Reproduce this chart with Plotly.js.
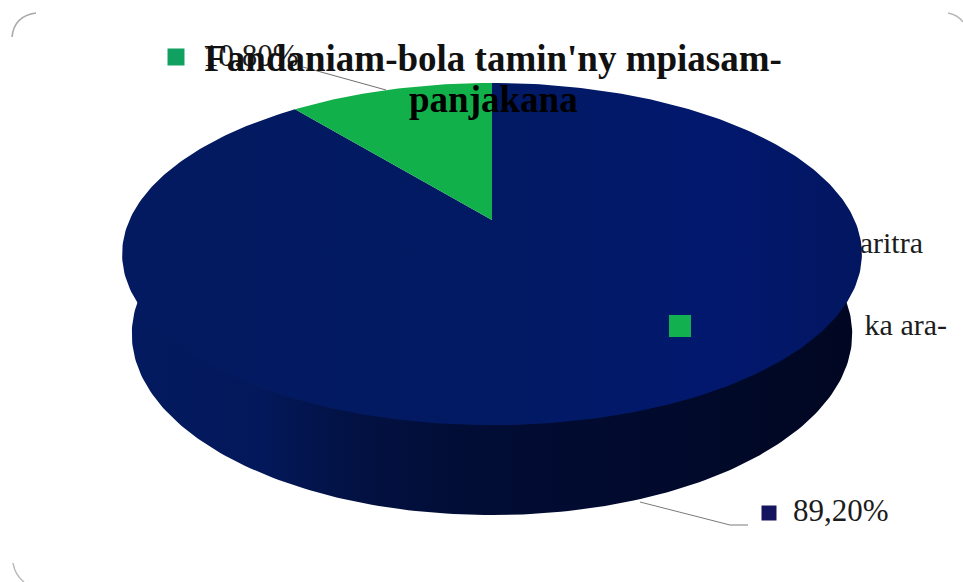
<!DOCTYPE html>
<html>
<head>
<meta charset="utf-8">
<script src="https://cdn.plot.ly/plotly-3.0.1.min.js"></script>
<style>html,body{margin:0;padding:0;background:#fff}#chart{width:963px;height:582px}</style>
</head>
<body>
<div id="chart"></div>
<script>
// Data
const sliceValues = [10.8, 89.2];
const sliceLabels = ["10,80%", "89,20%"];
const sliceColors = ["#12b04a", "#03196a"];
const titleLines = ["Fandaniam-bola tamin'ny mpiasam-", "panjakana"];
const legendFragments = ["aritra", "ka ara-"];

// Perspective geometry of the 3D pie, in plot units
const cx = 492, topY = 220, bottomY = 298, persp = 0.199;
const topRadX = 362.5, topRadY = 164.3, botRadX = 353, botRadY = 173.9;

function project(deg, y0, rx, ry) {
  const t = deg * Math.PI / 180, d = 1 + persp * Math.cos(t);
  return [cx + rx * Math.sin(t) / d, y0 - ry * Math.cos(t) / d];
}
function arc(from, to, y0, rx, ry) {
  const xs = [], ys = [], n = Math.max(2, Math.ceil(Math.abs(to - from)));
  for (let i = 0; i <= n; i++) {
    const p = project(from + (to - from) * i / n, y0, rx, ry);
    xs.push(p[0]); ys.push(p[1]);
  }
  return [xs, ys];
}
const greenDeg = sliceValues[0] / 100 * 360;

// Rim of the pie: starts just inside the top edge so no seam shows, joined to the lower edge
const rimTop = arc(80, 280, topY, topRadX * 0.97, topRadY * 0.97);
const rimBot = arc(280, 80, bottomY, botRadX, botRadY);

// Slices run counter-clockwise from twelve o'clock: green first, navy the rest
const navyArc = arc(0, 360 - greenDeg, topY, topRadX, topRadY);
const greenArc = arc(360 - greenDeg, 360, topY, topRadX, topRadY);

const traces = [
  { x: [923, 947], y: [245, 327], mode: "text", text: legendFragments,
    textposition: "middle left", cliponaxis: false,
    textfont: { family: "Liberation Serif", size: 30, color: "#1c1c1c" }, hoverinfo: "skip" },
  { x: rimTop[0].concat(rimBot[0]), y: rimTop[1].concat(rimBot[1]),
    mode: "lines", line: { width: 0 }, fill: "toself",
    fillgradient: { type: "horizontal", colorscale: [
      [0, "#031a60"], [0.18, "#03185a"], [0.3, "#021244"], [0.45, "#020d36"], [0.75, "#010a2c"], [1, "#010722"]] },
    hoverinfo: "skip" },
  { x: [cx].concat(navyArc[0], [cx]), y: [topY].concat(navyArc[1], [topY]),
    mode: "lines", line: { width: 0 }, fill: "toself",
    fillgradient: { type: "horizontal", colorscale: [
      [0, "#031a60"], [0.5, "#021a63"], [0.8, "#02186e"], [1, "#021660"]] },
    hovertext: sliceLabels[1], hoverinfo: "text" },
  { x: [cx].concat(greenArc[0], [cx]), y: [topY].concat(greenArc[1], [topY]),
    mode: "lines", line: { width: 0 }, fill: "toself", fillcolor: sliceColors[0],
    hovertext: sliceLabels[0], hoverinfo: "text" },
  { x: [303, 386], y: [67, 90], mode: "lines",
    line: { color: "#6f6f6f", width: 1 }, hoverinfo: "skip" },
  { x: [640, 730, 748], y: [502, 525, 525], mode: "lines",
    line: { color: "#7a7a7a", width: 1 }, hoverinfo: "skip" },
  { x: [176, 769, 680], y: [57, 513, 326], mode: "markers",
    marker: { symbol: "square", size: [17, 15, 22], opacity: 1, line: { width: 0 },
      color: ["#10a060", "#15155f", "#12b04f"] }, hoverinfo: "skip" },
  { x: [203, 793], y: [58, 513], mode: "text", text: sliceLabels,
    textposition: "middle right", cliponaxis: false,
    textfont: { family: "Liberation Serif", size: 31, color: "#1c1c1c" }, hoverinfo: "skip" }
];

const layout = {
  width: 963, height: 582,
  margin: { l: 0, r: 0, t: 0, b: 0 },
  paper_bgcolor: "#ffffff", plot_bgcolor: "#ffffff",
  showlegend: false,
  title: { text: titleLines[0], x: 0.512, xanchor: "center", y: 0.9, yanchor: "middle",
    font: { family: "Liberation Serif", size: 37, weight: 700, color: "#111" } },
  annotations: [{ text: titleLines[1], xref: "x", yref: "y", x: 493, y: 99, showarrow: false,
    font: { family: "Liberation Serif", size: 37, weight: 700, color: "#000" } }],
  xaxis: { range: [0, 963], visible: false, fixedrange: true },
  yaxis: { range: [582, 0], visible: false, fixedrange: true },
  shapes: [
    { type: "path", path: "M 12 37 Q 14 16 36 13", line: { color: "#a8a8a8", width: 1.5 }, layer: "below" },
    { type: "path", path: "M 948 13 Q 958 15 963 22", line: { color: "#b8b8b8", width: 1.5 }, layer: "below" },
    { type: "path", path: "M 13 563 Q 15 575 24 582", line: { color: "#b8b8b8", width: 1.5 }, layer: "below" }
  ]
};

Plotly.newPlot("chart", traces, layout, { displayModeBar: false, staticPlot: true });
</script>
</body>
</html>
